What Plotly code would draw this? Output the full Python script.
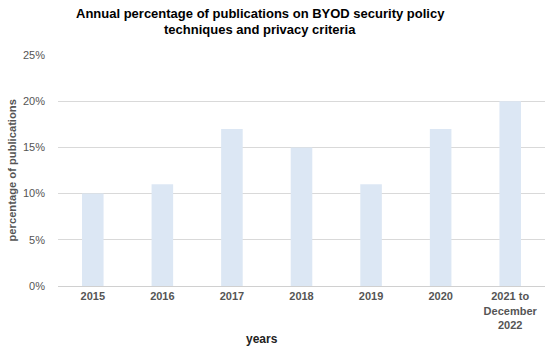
import plotly.graph_objects as go

categories = ["2015", "2016", "2017", "2018", "2019", "2020", "2021 to<br>December<br>2022"]
values = [10, 11, 17, 15, 11, 17, 20]
y_ticks = [0, 5, 10, 15, 20, 25]
y_tick_labels = ["0%", "5%", "10%", "15%", "20%", "25%"]
title_lines = ["Annual percentage of publications on BYOD security policy",
               "techniques and privacy criteria"]

fig = go.Figure(go.Bar(x=categories, y=values, marker_color="#dce7f4", marker_line_width=0,
                       hoverinfo="skip"))

fig.update_layout(
    template="simple_white",
    width=550, height=353,
    margin=dict(l=58, r=5, t=55, b=67),
    paper_bgcolor="white", plot_bgcolor="white",
    bargap=0.69,
    showlegend=False,
    font=dict(family="Liberation Sans, Arial, sans-serif", color="#555555"),
)
fig.update_yaxes(
    range=[0, 25], tickvals=y_ticks, ticktext=y_tick_labels,
    showgrid=True, gridcolor="#d9d9d9", gridwidth=1, zeroline=False, showline=False,
    tickfont=dict(size=11, color="#555555"), ticks="", ticklabelstandoff=12,
)
fig.update_xaxes(
    showline=True, linecolor="#d0d0d0", linewidth=1, showgrid=False,
    tickfont=dict(size=11, color="#555555", weight="bold"), ticks="",
)
for i, line in enumerate(title_lines):
    fig.add_annotation(
        text="<b>" + line + "</b>",
        xref="paper", yref="paper", x=(260 - 58) / 487, y=1, yshift=55 - 13 - 16 * i,
        yanchor="middle", showarrow=False, font=dict(size=13, color="#000000"),
    )
fig.add_annotation(
    text="<b>percentage of publications</b>", textangle=-90,
    xref="paper", yref="paper", x=0, xshift=-47, y=0.5, xanchor="center",
    showarrow=False, font=dict(size=11.2, color="#555555"),
)
fig.add_annotation(
    text="<b>years</b>",
    xref="paper", yref="paper", x=(262 - 58) / 487, y=0, yshift=-53, yanchor="middle",
    showarrow=False, font=dict(size=12, color="#222222"),
)

fig.write_html("out.html", config={"displayModeBar": False},
               post_script="document.body.style.margin='0';")
